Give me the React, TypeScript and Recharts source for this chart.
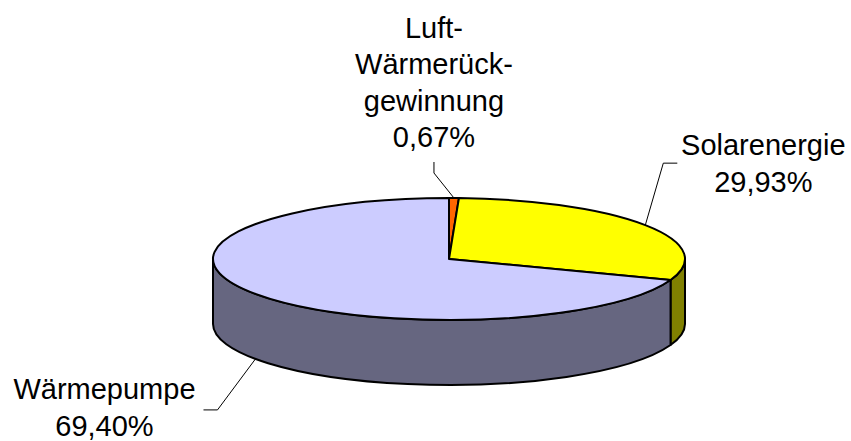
import { PieChart, Pie } from "recharts";

// shares of heat sources, clockwise from 12 o'clock
const SOURCES = ["Luft-Wärmerückgewinnung", "Solarenergie", "Wärmepumpe"];
const LABEL_LINES = [["Luft-", "Wärmerück-", "gewinnung"], ["Solarenergie"], ["Wärmepumpe"]];
const SHARES = [0.67, 29.93, 69.4];

const TOP_COLORS = ["#FF6600", "#FFFF00", "#CCCCFF"];
const SIDE_COLORS = ["#803300", "#808000", "#666680"];

// leader line / label placement, relative to where the leader touches the slice
const LEADERS = [
  { elbow: [-20, -25], end: [-20, -36], text: [0, -80] },
  { elbow: [18, -62], end: [32, -62], text: [86, 0] },
  { elbow: [-38, 51], end: [-52, 51], text: [-99, -3] },
];

const data = SOURCES.map((name, i) => ({ name, value: SHARES[i] }));

const TILT = 61 / 236; // vertical squash of the pie disc
const DEPTH = 65; // thickness of the disc
const FONT = "'Liberation Sans', Arial, sans-serif";
const FONT_SIZE = 29;
const LINE_HEIGHT = 36.5;

const RAD = Math.PI / 180;

function rim(cx: number, cy: number, rx: number, ry: number, a: number) {
  return { x: cx + rx * Math.cos(a * RAD), y: cy - ry * Math.sin(a * RAD) };
}

// draws one slice as a tilted 3D wedge (top face + visible front wall)
function renderSlice(props: any) {
  const { cx, cy, outerRadius, startAngle, endAngle, index } = props;
  const rx = outerRadius;
  const ry = outerRadius * TILT;
  const hiA = Math.max(startAngle, endAngle);
  const loA = Math.min(startAngle, endAngle);
  const p1 = rim(cx, cy, rx, ry, hiA);
  const p2 = rim(cx, cy, rx, ry, loA);
  const large = hiA - loA > 180 ? 1 : 0;
  const top = `M${cx},${cy} L${p1.x},${p1.y} A${rx},${ry} 0 ${large} 1 ${p2.x},${p2.y} Z`;

  // front wall only for the part of the slice in the lower half
  const wallHi = Math.min(hiA, 0);
  const wallLo = Math.max(loA, -180);
  let wall: string | null = null;
  if (wallHi > wallLo) {
    const w1 = rim(cx, cy, rx, ry, wallHi);
    const w2 = rim(cx, cy, rx, ry, wallLo);
    wall =
      `M${w1.x},${w1.y} A${rx},${ry} 0 0 1 ${w2.x},${w2.y} ` +
      `L${w2.x},${w2.y + DEPTH} A${rx},${ry} 0 0 0 ${w1.x},${w1.y + DEPTH} Z`;
  }

  return (
    <g>
      {wall && (
        <path d={wall} fill={SIDE_COLORS[index]} stroke="#000" strokeWidth={2} strokeLinejoin="round" />
      )}
      <path d={top} fill={TOP_COLORS[index]} stroke="#000" strokeWidth={2} strokeLinejoin="round" />
    </g>
  );
}

function renderLabel(props: any) {
  const { cx, cy, outerRadius, startAngle, endAngle, index, value } = props;
  const rx = outerRadius;
  const ry = outerRadius * TILT;
  const mid = (startAngle + endAngle) / 2;
  const anchor = rim(cx, cy, rx, ry, mid);
  if (Math.sin(mid * RAD) < 0) anchor.y += DEPTH;

  const lay = LEADERS[index];
  const elbow = { x: anchor.x + lay.elbow[0], y: anchor.y + lay.elbow[1] };
  const end = { x: anchor.x + lay.end[0], y: anchor.y + lay.end[1] };
  const tx = end.x + lay.text[0];
  const ty = end.y + lay.text[1];

  const lines = [...LABEL_LINES[index], `${Number(value).toFixed(2).replace(".", ",")}%`];
  const firstCenter = ty - ((lines.length - 1) * LINE_HEIGHT) / 2;

  return (
    <g>
      <polyline
        points={`${anchor.x},${anchor.y} ${elbow.x},${elbow.y} ${end.x},${end.y}`}
        fill="none"
        stroke="#000"
        strokeWidth={1}
      />
      {lines.map((line, i) => (
        <text
          key={i}
          x={tx}
          y={firstCenter + i * LINE_HEIGHT + FONT_SIZE * 0.36}
          textAnchor="middle"
          fontFamily={FONT}
          fontSize={FONT_SIZE}
          fill="#000"
        >
          {line}
        </text>
      ))}
    </g>
  );
}

export default function App() {
  return (
    <div style={{ position: "absolute", left: 0, top: 0, background: "#fff" }}>
      <PieChart width={851} height={441} margin={{ top: 0, right: 0, bottom: 0, left: 0 }}>
        <Pie
          data={data}
          dataKey="value"
          nameKey="name"
          cx={449}
          cy={259}
          outerRadius={236}
          startAngle={90}
          endAngle={-270}
          fill="none"
          stroke="none"
          label={renderSlice}
          labelLine={false}
          isAnimationActive={false}
        />
        <Pie
          data={data}
          dataKey="value"
          nameKey="name"
          cx={449}
          cy={259}
          outerRadius={236}
          startAngle={90}
          endAngle={-270}
          fill="none"
          stroke="none"
          label={renderLabel}
          labelLine={false}
          isAnimationActive={false}
        />
      </PieChart>
    </div>
  );
}
